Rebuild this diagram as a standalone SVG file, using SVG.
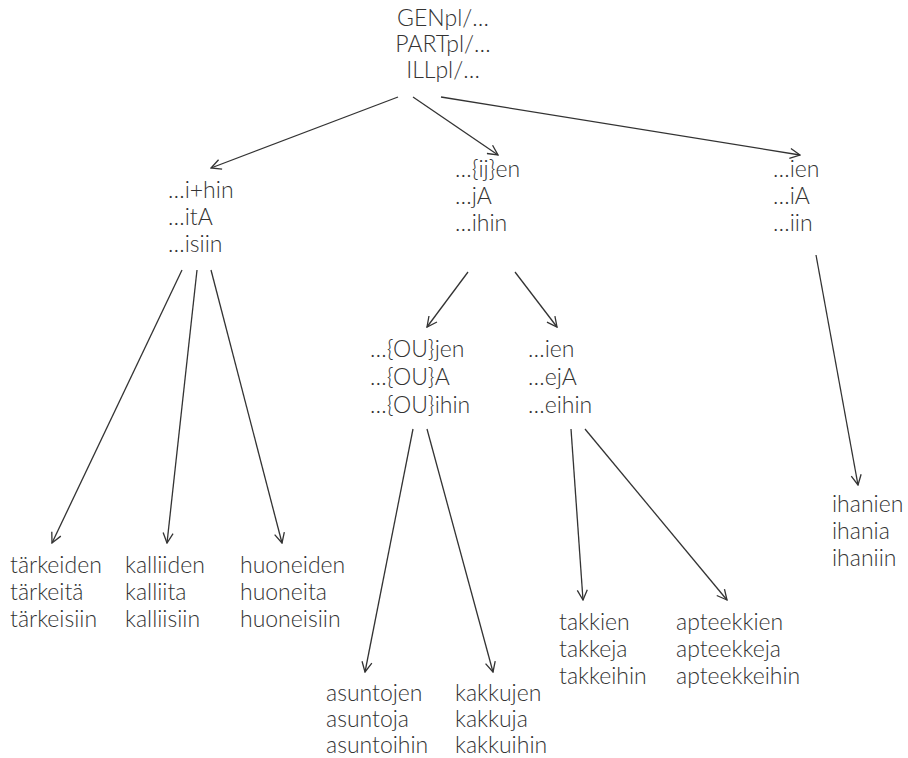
<svg xmlns="http://www.w3.org/2000/svg" width="908" height="758" viewBox="0 0 908 758">
<defs>
<marker id="ah" viewBox="0 0 12 12" refX="11" refY="6" markerWidth="12" markerHeight="12" markerUnits="userSpaceOnUse" orient="auto">
<path d="M1,1 L11,6 L1,11" fill="none" stroke="#333" stroke-width="1.3"/>
</marker>
<style>
text{font-family:Lato,"Open Sans","Liberation Sans",sans-serif;font-weight:300;font-size:23px;fill:#333}
.c{text-anchor:middle}
line{stroke:#333;stroke-width:1.3;marker-end:url(#ah)}
</style>
</defs>
<rect width="908" height="758" fill="#fff"/>
<g id="connectors">
<line x1="398" y1="97" x2="211" y2="168"/>
<line x1="413" y1="97" x2="498" y2="155"/>
<line x1="441" y1="97" x2="800" y2="155"/>
<line x1="182" y1="270" x2="52" y2="543"/>
<line x1="197" y1="270" x2="167" y2="543"/>
<line x1="211" y1="270" x2="282" y2="543"/>
<line x1="468" y1="272" x2="427" y2="327"/>
<line x1="515" y1="272" x2="557" y2="327"/>
<line x1="413" y1="429" x2="365" y2="672"/>
<line x1="427" y1="429" x2="493" y2="672"/>
<line x1="571" y1="429" x2="583" y2="600"/>
<line x1="585" y1="429" x2="727" y2="600"/>
<line x1="816" y1="255" x2="858" y2="485"/>
</g>
<g id="root">
<text class="c" x="443" y="26">GENpl/…</text>
<text class="c" x="443" y="52">PARTpl/…</text>
<text class="c" x="443" y="78">ILLpl/…</text>
</g>
<g id="n_ihin">
<text x="168" y="198">…i+hin</text>
<text x="168" y="225">…itA</text>
<text x="168" y="252">…isiin</text>
</g>
<g id="n_ijen">
<text x="455" y="177">…{ij}en</text>
<text x="455" y="204">…jA</text>
<text x="455" y="231">…ihin</text>
</g>
<g id="n_ien_r">
<text x="773" y="177">…ien</text>
<text x="773" y="204">…iA</text>
<text x="773" y="231">…iin</text>
</g>
<g id="n_oujen">
<text x="370" y="357">…{OU}jen</text>
<text x="370" y="385">…{OU}A</text>
<text x="370" y="413">…{OU}ihin</text>
</g>
<g id="n_ien_m">
<text x="528" y="357">…ien</text>
<text x="528" y="385">…ejA</text>
<text x="528" y="413">…eihin</text>
</g>
<g id="w_tarkea">
<text x="10" y="573">tärkeiden</text>
<text x="10" y="600">tärkeitä</text>
<text x="10" y="627">tärkeisiin</text>
</g>
<g id="w_kallis">
<text x="125" y="573">kalliiden</text>
<text x="125" y="600">kalliita</text>
<text x="125" y="627">kalliisiin</text>
</g>
<g id="w_huone">
<text x="240" y="573">huoneiden</text>
<text x="240" y="600">huoneita</text>
<text x="240" y="627">huoneisiin</text>
</g>
<g id="w_asunto">
<text x="326" y="701">asuntojen</text>
<text x="326" y="727">asuntoja</text>
<text x="326" y="753">asuntoihin</text>
</g>
<g id="w_kakku">
<text x="455" y="701">kakkujen</text>
<text x="455" y="727">kakkuja</text>
<text x="455" y="753">kakkuihin</text>
</g>
<g id="w_takki">
<text x="559" y="630">takkien</text>
<text x="559" y="657">takkeja</text>
<text x="559" y="684">takkeihin</text>
</g>
<g id="w_apteekki">
<text x="676" y="630">apteekkien</text>
<text x="676" y="657">apteekkeja</text>
<text x="676" y="684">apteekkeihin</text>
</g>
<g id="w_ihana">
<text x="832" y="512">ihanien</text>
<text x="832" y="539">ihania</text>
<text x="832" y="566">ihaniin</text>
</g>
</svg>
